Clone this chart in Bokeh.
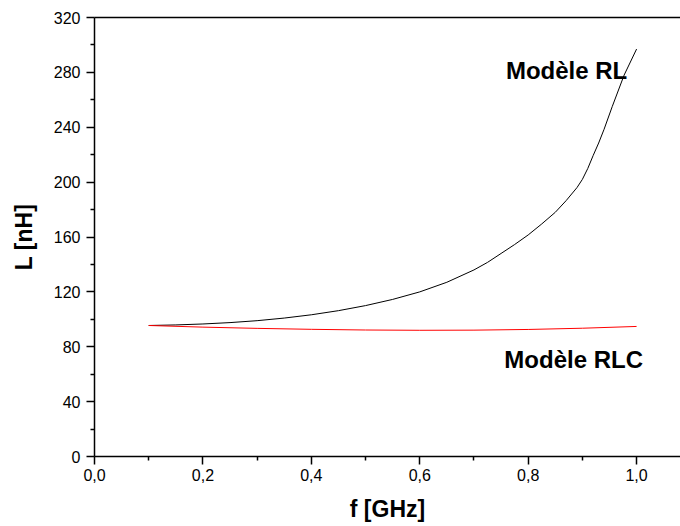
from bokeh.plotting import figure
from bokeh.models import Range1d, LinearAxis, FixedTicker, CustomJSTickFormatter, Label
from bokeh.embed import file_html
from bokeh.resources import INLINE

# Data
f_rl = [0.10, 0.15, 0.20, 0.25, 0.30, 0.35, 0.40, 0.45, 0.50, 0.55, 0.60, 0.65,
        0.70, 0.725, 0.75, 0.775, 0.80, 0.825, 0.85, 0.87, 0.89, 0.90, 0.91, 0.92,
        0.93, 0.94, 0.955, 0.977, 1.00]
L_rl = [95.5, 95.9, 96.6, 97.6, 99.0, 100.9, 103.3, 106.3, 110.0, 114.5, 120.0, 127.0,
        136.0, 141.5, 148.0, 154.5, 161.5, 169.5, 178.0, 186.5, 196.0, 202.0, 210.0, 219.5,
        228.5, 238.5, 255.0, 278.0, 297.0]

f_rlc = [0.10, 0.20, 0.30, 0.40, 0.50, 0.60, 0.70, 0.80, 0.90, 1.00]
L_rlc = [95.5, 94.3, 93.4, 92.7, 92.2, 92.0, 92.1, 92.6, 93.5, 94.8]

x_major = [0.0, 0.2, 0.4, 0.6, 0.8, 1.0]
x_minor = [0.1, 0.3, 0.5, 0.7, 0.9]
y_major = [0, 40, 80, 120, 160, 200, 240, 280, 320]
y_minor = [20, 60, 100, 140, 180, 220, 260, 300]

label_rl = "Modèle RL"
label_rlc = "Modèle RLC"
x_title = "f [GHz]"
y_title = "L [nH]"

FONT = "Liberation Sans"

p = figure(width=680, height=526, output_backend="svg", toolbar_location=None,
           x_range=Range1d(0, 1.081), y_range=Range1d(0, 320),
           x_axis_location=None, y_axis_location=None,
           min_border_left=94, min_border_right=0, min_border_top=17, min_border_bottom=70)
p.outline_line_color = None
p.xgrid.visible = False
p.ygrid.visible = False
p.background_fill_color = "white"
p.border_fill_color = "white"

xaxis = LinearAxis(ticker=FixedTicker(ticks=x_major, minor_ticks=x_minor),
                   formatter=CustomJSTickFormatter(code="return tick.toFixed(1).replace('.', ',');"),
                   axis_label=x_title)
yaxis = LinearAxis(ticker=FixedTicker(ticks=y_major, minor_ticks=y_minor), axis_label=y_title)
for ax in (xaxis, yaxis):
    ax.axis_line_width = 1.5
    ax.axis_line_color = "black"
    ax.major_tick_line_width = 1.5
    ax.minor_tick_line_width = 1.5
    ax.major_tick_in = 0
    ax.major_tick_out = 8
    ax.minor_tick_in = 0
    ax.minor_tick_out = 4
    ax.major_label_text_font = FONT
    ax.major_label_text_font_size = "16px"
    ax.major_label_text_color = "black"
    ax.axis_label_text_font = FONT
    ax.axis_label_text_font_size = "23px"
    ax.axis_label_text_font_style = "bold"
    ax.axis_label_text_color = "black"
xaxis.major_label_standoff = 4
xaxis.axis_label_standoff = 12
yaxis.major_label_standoff = 6
yaxis.axis_label_standoff = 14
p.add_layout(xaxis, "below")
p.add_layout(yaxis, "left")

top = LinearAxis(ticker=FixedTicker(ticks=[]))
top.axis_line_width = 1.5
top.major_tick_line_color = None
top.minor_tick_line_color = None
top.major_tick_out = 0
top.minor_tick_out = 0
top.major_label_standoff = 0
top.major_label_text_font_size = "0px"
p.add_layout(top, "above")

p.line(f_rl, L_rl, line_color="black", line_width=1)
p.line(f_rlc, L_rlc, line_color="#ff0000", line_width=1)

p.add_layout(Label(x=0.759, y=281.3, text=label_rl, text_font=FONT, text_font_size="24px",
                   text_font_style="bold", text_color="black", text_baseline="alphabetic"))
p.add_layout(Label(x=0.756, y=70.4, text=label_rlc, text_font=FONT, text_font_size="24px",
                   text_font_style="bold", text_color="black", text_baseline="alphabetic"))

open("out.html", "w").write(file_html(p, INLINE))
